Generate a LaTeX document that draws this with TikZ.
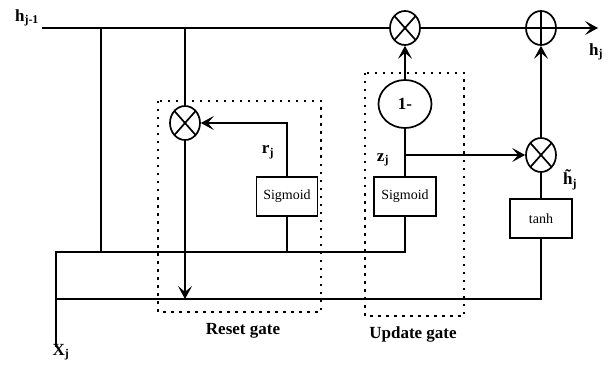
\documentclass[tikz,border=0pt]{standalone}
\usepackage{fontspec}
\setmainfont{Liberation Serif}
\usetikzlibrary{arrows.meta,shapes.geometric}
\begin{document}
\begin{tikzpicture}[x=1pt,y=-1pt,line width=1.7pt,
  arr/.style={-{Stealth[length=13pt,width=14pt,inset=6pt,line width=0.8pt]}},
  opnode/.style={draw,ellipse,minimum width=30pt,minimum height=34pt,inner sep=0pt},
  mulop/.style={opnode,path picture={
     \draw[line width=1.7pt] (path picture bounding box.north west) -- (path picture bounding box.south east)
       (path picture bounding box.north east) -- (path picture bounding box.south west);}},
  addop/.style={opnode,path picture={
     \draw[line width=1.7pt] (path picture bounding box.north) -- (path picture bounding box.south)
       (path picture bounding box.east) -- (path picture bounding box.west);}},
  actbox/.style={draw,rectangle,inner sep=0pt,font=\fontsize{14}{15}\selectfont},
  gatebox/.style={line width=2pt,dash pattern=on 2.5pt off 5.5pt},
  lbl/.style={font=\fontsize{17}{19}\selectfont\bfseries,inner sep=0pt}]
\useasboundingbox (0,0) rectangle (616,377);
% dotted gate boxes
\draw[gatebox] (158,101) rectangle (321,312);
\draw[gatebox] (365,73) rectangle (464,316);
% nodes
\node[mulop] (mr) at (185,123) {};
\node[mulop] (mu) at (405,28) {};
\node[addop] (plus) at (541,28) {};
\node[mulop] (mt) at (541,155) {};
\node[draw,ellipse,minimum width=53pt,minimum height=48pt,inner sep=0pt,font=\fontsize{17}{19}\selectfont\bfseries] (one) at (405,104) {1-};
\node[actbox,minimum width=61pt,minimum height=39pt] (sr) at (287,196.5) {Sigmoid};
\node[actbox,minimum width=62pt,minimum height=39pt] (su) at (405,196.5) {Sigmoid};
\node[actbox,minimum width=62pt,minimum height=39pt] (th) at (541,218.5) {tanh};
% coordinates
\coordinate (hs) at (42,28);
\coordinate (he) at (598,28);
\coordinate (b1) at (101,28);
\coordinate (b1e) at (101,252);
\coordinate (b2) at (185,28);
\coordinate (rd) at (185,299);
\coordinate (xin) at (56,347);
\coordinate (x1) at (56,252);
\coordinate (x2) at (56,299);
\coordinate (sre) at (287,252);
\coordinate (zb) at (405,155);
% labels
\node[lbl] (lh) at (27,18) {h\textsubscript{j-1}};
\node[lbl] (lhj) at (596,52) {h\textsubscript{j}};
\node[lbl] (lr) at (268,152) {r\textsubscript{j}};
\node[lbl] (lz) at (383,160) {z\textsubscript{j}};
\node[lbl] (lht) at (570,180) {\~{h}\textsubscript{j}};
\node[lbl] (lx) at (61,352) {X\textsubscript{j}};
\node[lbl] (lreset) at (243,331) {Reset gate};
\node[lbl] (lupdate) at (413,334) {Update gate};
% connectors
\draw (hs) -- (mu.west);
\draw (mu.east) -- (plus.west);
\draw[arr] (plus.east) -- (he);
\draw (b1) -- (b1e);
\draw (b2) -- (mr.north);
\draw[arr] (mr.south) -- (rd);
\draw[arr] (sr.north) |- (mr.east);
\draw (sr.south) -- (sre);
\draw (xin) -- (x1) -| (su.south);
\draw (x2) -| (th.south);
\draw (su.north) -- (one.south);
\draw[arr] (one.north) -- (mu.south);
\draw[arr] (zb) -- (mt.west);
\draw (th.north) -- (mt.south);
\draw[arr] (mt.north) -- (plus.south);
\end{tikzpicture}
\end{document}
